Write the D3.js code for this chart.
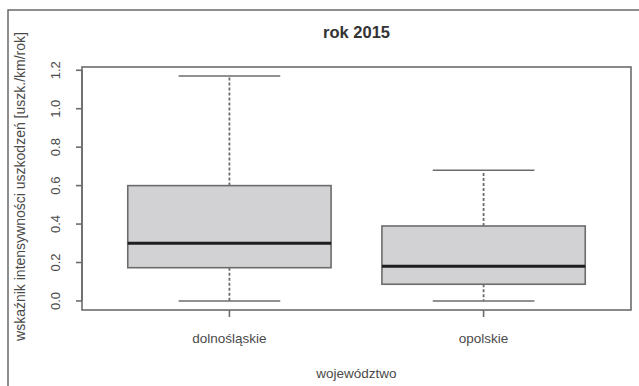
<!DOCTYPE html>
<html>
<head>
<meta charset="utf-8">
<script src="https://cdn.jsdelivr.net/npm/d3@7"></script>
<style>
  html, body { margin: 0; padding: 0; background: #fff; }
  svg { display: block; }
  text { font-family: "Liberation Sans", Arial, Helvetica, sans-serif; fill: #4a4a4a; }
</style>
</head>
<body>
<svg id="chart" width="639" height="386"></svg>
<script>
// Regions (województwa) and their box-plot statistics
const categories = ["dolnośląskie", "opolskie"];
const whiskerLow  = [0.0, 0.0];
const quartile1   = [0.173, 0.087];
const medians     = [0.30, 0.18];
const quartile3   = [0.60, 0.39];
const whiskerHigh = [1.17, 0.68];
const yTicks = [0.0, 0.2, 0.4, 0.6, 0.8, 1.0, 1.2];

const title = "rok 2015";
const xTitle = "województwo";
const yTitle = "wskaźnik intensywności uszkodzeń [uszk./km/rok]";

const svg = d3.select("#chart");
const lineCol = "#6c6c6c";

// Plot region (R-style: positions 1..n, 4% padding on each side)
const plot = { left: 82, right: 631, top: 67, bottom: 310 };
const x = d3.scaleLinear().domain([0.42, categories.length + 0.58]).range([plot.left, plot.right]);
const y = d3.scaleLinear().domain([-0.047, 1.217]).range([plot.bottom, plot.top]);

// Outer frame (top and left edges)
svg.append("path")
  .attr("d", "M8,386 L8,10 L639,10")
  .attr("fill", "none").attr("stroke", "#6a6a6a").attr("stroke-width", 1.5);

// Title
svg.append("text")
  .attr("x", (plot.left + plot.right) / 2).attr("y", 38)
  .attr("text-anchor", "middle")
  .attr("font-size", 16.5).attr("font-weight", "bold")
  .style("fill", "#333")
  .text(title);

const data = categories.map((c, i) => ({
  c, pos: i + 1,
  lo: whiskerLow[i], q1: quartile1[i], med: medians[i], q3: quartile3[i], hi: whiskerHigh[i]
}));

const g = svg.append("g");
const boxHalf = 0.4, capHalf = 0.2;

data.forEach(d => {
  // dashed whiskers
  g.append("line")
    .attr("x1", x(d.pos)).attr("x2", x(d.pos))
    .attr("y1", y(d.q3)).attr("y2", y(d.hi))
    .attr("stroke", lineCol).attr("stroke-width", 1.8).attr("stroke-dasharray", "3,2");
  g.append("line")
    .attr("x1", x(d.pos)).attr("x2", x(d.pos))
    .attr("y1", y(d.q1)).attr("y2", y(d.lo))
    .attr("stroke", lineCol).attr("stroke-width", 1.8).attr("stroke-dasharray", "3,2");
  // whisker caps
  [d.lo, d.hi].forEach(v => {
    g.append("line")
      .attr("x1", x(d.pos - capHalf)).attr("x2", x(d.pos + capHalf))
      .attr("y1", y(v)).attr("y2", y(v))
      .attr("stroke", lineCol).attr("stroke-width", 1.6);
  });
  // box
  g.append("rect")
    .attr("x", x(d.pos - boxHalf)).attr("width", x(d.pos + boxHalf) - x(d.pos - boxHalf))
    .attr("y", y(d.q3)).attr("height", y(d.q1) - y(d.q3))
    .attr("fill", "#d2d2d4").attr("stroke", lineCol).attr("stroke-width", 1.6);
  // median
  g.append("line")
    .attr("x1", x(d.pos - boxHalf)).attr("x2", x(d.pos + boxHalf))
    .attr("y1", y(d.med)).attr("y2", y(d.med))
    .attr("stroke", "#1e1e1e").attr("stroke-width", 3);
});

// Plot box
svg.append("rect")
  .attr("x", plot.left).attr("y", plot.top)
  .attr("width", plot.right - plot.left).attr("height", plot.bottom - plot.top)
  .attr("fill", "none").attr("stroke", lineCol).attr("stroke-width", 1.6);

// Y axis: ticks with rotated labels
const yAxis = svg.append("g");
yAxis.append("line")
  .attr("x1", plot.left).attr("x2", plot.left)
  .attr("y1", y(yTicks[0])).attr("y2", y(yTicks[yTicks.length - 1]))
  .attr("stroke", lineCol).attr("stroke-width", 1.6);
yTicks.forEach(t => {
  yAxis.append("line")
    .attr("x1", plot.left - 6).attr("x2", plot.left)
    .attr("y1", y(t)).attr("y2", y(t))
    .attr("stroke", lineCol).attr("stroke-width", 1.6);
  yAxis.append("text")
    .attr("transform", `translate(60,${y(t)}) rotate(-90)`)
    .attr("text-anchor", "middle")
    .attr("font-size", 13)
    .text(d3.format(".1f")(t));
});

// X axis: ticks and category labels
const xAxis = svg.append("g");
data.forEach(d => {
  xAxis.append("line")
    .attr("x1", x(d.pos)).attr("x2", x(d.pos))
    .attr("y1", plot.bottom).attr("y2", plot.bottom + 7)
    .attr("stroke", lineCol).attr("stroke-width", 1.6);
  xAxis.append("text")
    .attr("x", x(d.pos)).attr("y", 343)
    .attr("text-anchor", "middle")
    .attr("font-size", 13.5)
    .text(d.c);
});

// Axis titles
svg.append("text")
  .attr("x", (plot.left + plot.right) / 2).attr("y", 378)
  .attr("text-anchor", "middle")
  .attr("font-size", 13.5)
  .text(xTitle);

svg.append("text")
  .attr("transform", `translate(25,${(plot.top + plot.bottom) / 2 - 2}) rotate(-90)`)
  .attr("text-anchor", "middle")
  .attr("font-size", 14)
  .text(yTitle);
</script>
</body>
</html>
